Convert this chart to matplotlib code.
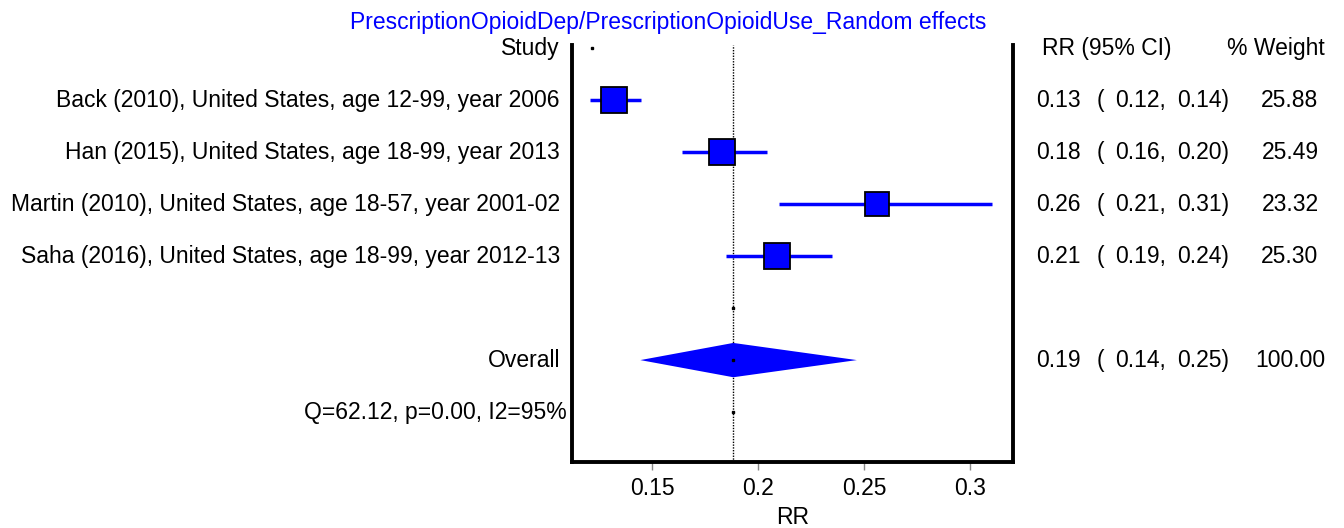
import matplotlib
matplotlib.use("Agg")
import matplotlib.pyplot as plt
import matplotlib.transforms as mtransforms
import numpy as np

plt.rcParams['font.family'] = ['Liberation Sans', 'DejaVu Sans']

title = "PrescriptionOpioidDep/PrescriptionOpioidUse_Random effects"
studies = [
    "Back (2010), United States, age 12-99, year 2006",
    "Han (2015), United States, age 18-99, year 2013",
    "Martin (2010), United States, age 18-57, year 2001-02",
    "Saha (2016), United States, age 18-99, year 2012-13",
]
rr = [0.132, 0.183, 0.256, 0.209]
lo = [0.121, 0.164, 0.210, 0.185]
hi = [0.145, 0.204, 0.310, 0.235]
weights = [25.88, 25.49, 23.32, 25.30]
rr_text = ["0.13", "0.18", "0.26", "0.21"]
lo_text = ["0.12", "0.16", "0.21", "0.19"]
hi_text = ["0.14", "0.20", "0.31", "0.24"]
w_text = ["25.88", "25.49", "23.32", "25.30"]

overall_rr = 0.1883
overall_lo = 0.1445
overall_hi = 0.2465
overall_text = ("0.19", "0.14", "0.25", "100.00")
het_text = "Q=62.12, p=0.00, I2=95%"
xticks = [0.15, 0.2, 0.25, 0.3]
xticklabels = ["0.15", "0.2", "0.25", "0.3"]

W, H = 1344, 528
fig = plt.figure(figsize=(W / 100, H / 100), dpi=100)
ax_left, ax_right = 572 / W, 1013 / W
ax_bottom, ax_top = 1 - 462 / H, 1 - 45 / H
ax = fig.add_axes([ax_left, ax_bottom, ax_right - ax_left, ax_top - ax_bottom])

ax.set_xlim(0.1123, 0.3201)
ax.set_ylim(7.96, -0.06)

blue = "#0000ff"
fs = 16.5

# reference line
ax.axvline(overall_rr, color="black", lw=1, ls=(0, (1, 1)), zorder=1)

# study rows
rows = np.arange(1, len(studies) + 1)
for i, y in enumerate(rows):
    ax.plot([lo[i], hi[i]], [y, y], color=blue, lw=2.5, solid_capstyle="butt", zorder=2)
    ms = 18.7 * np.sqrt(weights[i] / max(weights))
    ax.plot(rr[i], y, marker="s", ms=ms, mfc=blue, mec="black", mew=1.3, zorder=3)

# overall diamond
yo = 6
ax.fill([overall_lo, overall_rr, overall_hi, overall_rr],
        [yo, yo - 0.33, yo, yo + 0.33], color=blue, lw=0, zorder=2)

# small dots
ax.plot([overall_rr] * 3, [5, 6, 7], ls="none", marker="s", ms=1.5, color="black", zorder=4)
ax.plot([0.1217], [0], ls="none", marker="s", ms=1.5, color="black", zorder=4)

# spines
for s in ["left", "right", "bottom"]:
    ax.spines[s].set_linewidth(2.8)
ax.spines["top"].set_visible(False)
ax.set_yticks([])
ax.set_xticks(xticks)
ax.set_xticklabels(xticklabels, fontsize=fs)
ax.tick_params(axis="x", direction="out", length=6, width=1, color="#888888", pad=5)
ax.set_xlabel("RR", fontsize=fs, labelpad=4)

# texts
trans = mtransforms.blended_transform_factory(fig.transFigure, ax.transData)
lab_x = 560 / W
ax.text(lab_x, 0, "Study", transform=trans, ha="right", va="center", fontsize=fs)
for i, y in enumerate(rows):
    ax.text(lab_x, y, studies[i], transform=trans, ha="right", va="center", fontsize=fs)
ax.text(lab_x, 6, "Overall", transform=trans, ha="right", va="center", fontsize=fs)
ax.text(567 / W, 7, het_text, transform=trans, ha="right", va="center", fontsize=fs)

ax.text(1042 / W, 0, "RR (95% CI)", transform=trans, ha="left", va="center", fontsize=fs)
ax.text(1325 / W, 0, "% Weight", transform=trans, ha="right", va="center", fontsize=fs)

def row_text(y, a, b, c, w):
    ax.text(1036 / W, y, a, transform=trans, ha="left", va="center", fontsize=fs)
    ax.text(1097 / W, y, "(", transform=trans, ha="left", va="center", fontsize=fs)
    ax.text(1115 / W, y, b + ",", transform=trans, ha="left", va="center", fontsize=fs)
    ax.text(1177 / W, y, c + ")", transform=trans, ha="left", va="center", fontsize=fs)
    ax.text(1290 / W, y, w, transform=trans, ha="center", va="center", fontsize=fs)

for i, y in enumerate(rows):
    row_text(y, rr_text[i], lo_text[i], hi_text[i], w_text[i])
row_text(6, *overall_text)

fig.text(668 / W, 1 - 22 / H, title, ha="center", va="center", fontsize=fs, color=blue)

fig.savefig("out.png", dpi=100)
